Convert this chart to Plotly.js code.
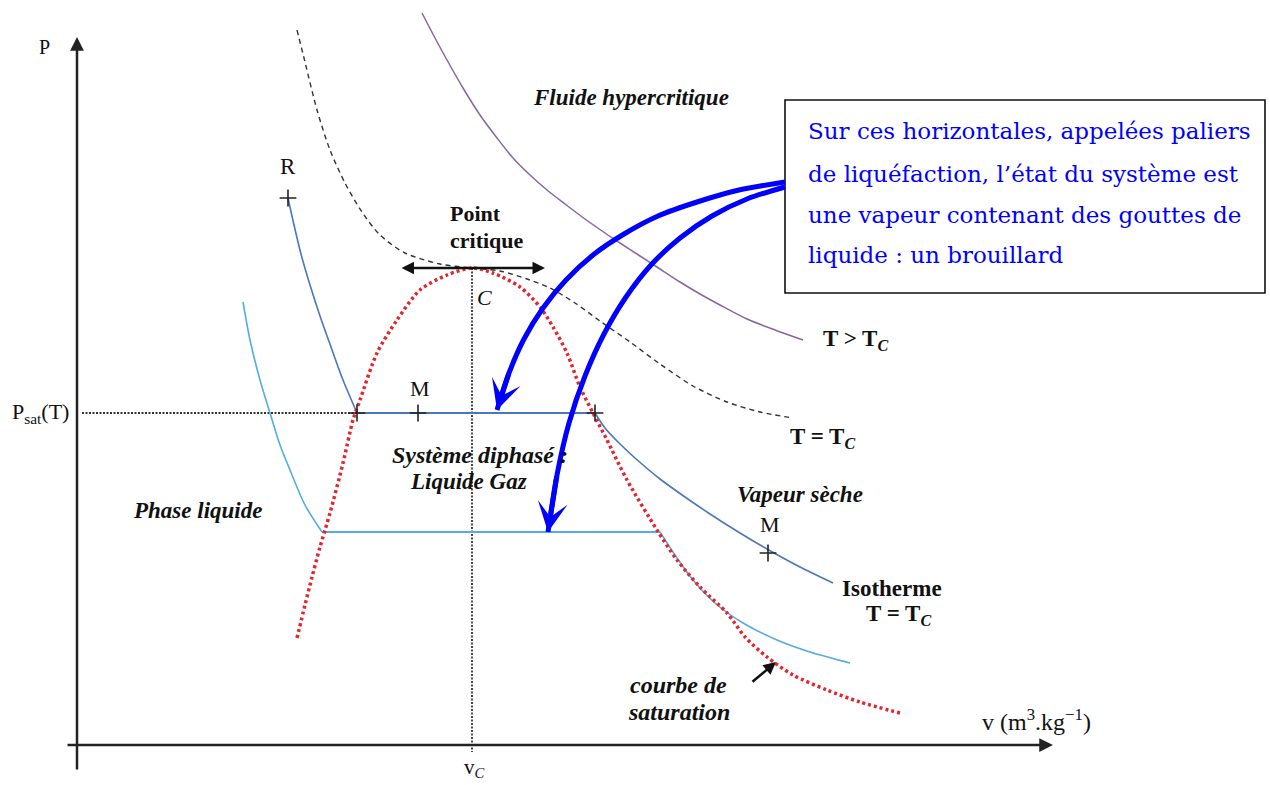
<!DOCTYPE html>
<html>
<head>
<meta charset="utf-8">
<script src="https://cdn.plot.ly/plotly-3.0.1.min.js"></script>
<style>
  html, body { margin: 0; padding: 0; background: #fff; }
  #chart { width: 1270px; height: 785px; }
</style>
</head>
<body>
<div id="chart"></div>
<script>
// Diagramme de Clapeyron (P, v) : courbe de saturation et isothermes (schéma)
// v : volume massique (unités arbitraires), P : pression (unités arbitraires)

// Courbe de saturation (ébullition + rosée)
const satV = [297,305,312,320,330,343,353,360,377,397,420,447,472,493,520,540,553,567,580,593,607,627,657,677,700,727,745,767,793,827,860,900];
const satP = [147,180,208,238,272,322,365,385,432,465,495,510,517,512,498,478,458,432,398,372,345,305,255,225,198,172,148,128,110,95,83,72];

// Isotherme critique T = Tc
const critV = [297,305,317,330,345,362,380,405,440,472,500,527,550,575,600,630,660,693,727,760,793];
const critP = [755,723,675,635,602,573,550,532,521,517,514,506,497,482,464,443,421,399,383,373,367];

// Isotherme T > Tc (fluide hypercritique)
const hypV = [422,435,447,463,480,497,513,530,547,565,585,605,620,640,657,680,700,720,747,775,803];
const hypP = [772,747,725,697,670,647,627,610,595,581,566,552,542,529,518,503,491,480,466,455,445];

// Isotherme T < Tc passant par Psat(T)
const isoLiqV = [288,294,301,310,320,331,343,357];
const isoLiqP = [587,560,531,500,469,438,405,372];
const isoPalierV = [357,595];
const isoPalierP = [372,372];
const isoVapV = [595,605,618,635,660,685,710,740,767,800,833];
const isoVapP = [372,357,343,327,306,288,271,252,236,218,202];

// Isotherme plus basse
const iso2LiqV = [243,250,260,270,280,290,305,322];
const iso2LiqP = [483,445,405,372,340,315,280,253];
const iso2PalierV = [322,660];
const iso2PalierP = [253,253];
const iso2VapV = [660,675,693,715,743,777,810,850];
const iso2VapP = [253,230,205,182,162,145,133,122];

// Point critique et états repérés
const vC = 472, pC = 517;
const pSat = 372;
const markV = [288,357,418,595,768];
const markP = [587,372,372,372,232];

// Flèches de la bulle explicative
const fl1V = [785,739,697,658,624,593,566,543,524,509,497];
const fl1P = [603,595,583,569,551,530,505,477,446,412,375];
const fl2V = [785,747,712,680,651,626,604,585,569,557,548];
const fl2P = [598,586,569,547,520,488,451,409,362,310,253];

const bubbleLines = [
  "Sur ces horizontales, appelées paliers",
  "de liquéfaction, l’état du système est",
  "une vapeur contenant des gouttes de",
  "liquide : un brouillard"
];

const serif = "Liberation Serif, Times New Roman, serif";
const black = "#111";

function line(x, y, color, width, dash, shape) {
  return { x: x, y: y, type: "scatter", mode: "lines", hoverinfo: "skip",
           line: { color: color, width: width, dash: dash || "solid", shape: shape || "spline", smoothing: 0.8 } };
}

const traces = [
  line([vC, vC], [pC, 33], "#333", 1.8, "2px,1.5px", "linear"),
  line([82, 357], [pSat, pSat], "#333", 1.8, "2px,1.5px", "linear"),
  line(hypV, hypP, "#8468a6", 1.5),
  line(critV, critP, "#333", 1.4, "5px,4px"),
  line(iso2LiqV, iso2LiqP, "#55ace0", 1.6),
  line(iso2PalierV, iso2PalierP, "#55ace0", 1.8, "solid", "linear"),
  line(iso2VapV, iso2VapP, "#55ace0", 1.6),
  line(isoLiqV, isoLiqP, "#4a78b8", 1.6),
  line(isoPalierV, isoPalierP, "#4a78b8", 2, "solid", "linear"),
  line(isoVapV, isoVapP, "#4a78b8", 1.6),
  line(satV, satP, "#e3262e", 3.5, "3px,3px"),
  line(fl1V, fl1P, "#0000ff", 5),
  line(fl2V, fl2P, "#0000ff", 5),
  { x: markV, y: markP, type: "scatter", mode: "markers", hoverinfo: "skip",
    marker: { symbol: "cross-thin", size: 12, line: { color: "#222", width: 1.6 } } }
];

function label(x, y, text, size, opts) {
  opts = opts || {};
  return Object.assign({
    x: x, y: y, xref: "x", yref: "y", text: text, showarrow: false,
    xanchor: "center", yanchor: "middle",
    font: { family: opts.family || serif, size: size, color: opts.color || black }
  }, opts.xanchor ? { xanchor: opts.xanchor } : {});
}

function arrow(x, y, ax, ay, color, width, head, size, side) {
  return { x: x, y: y, ax: ax, ay: ay, xref: "x", yref: "y", axref: "x", ayref: "y",
           text: "", showarrow: true, arrowcolor: color, arrowwidth: width,
           arrowhead: head, arrowsize: size, arrowside: side || "end",
           startarrowhead: head, startarrowsize: size };
}

const n1 = fl1V.length, n2 = fl2V.length;
const annotations = [
  // axes
  arrow(77, 748, 77, 14, "#222", 2.5, 2, 1.1),
  arrow(1053, 40, 66, 40, "#222", 2.5, 2, 1.1),
  // tangente horizontale au point critique
  arrow(545, pC, 400, pC, "#111", 2.5, 2, 1, "end+start"),
  // renvoi vers la courbe de saturation
  arrow(776, 123, 751, 102, "#111", 2.5, 2, 1),
  // pointes des flèches bleues
  arrow(fl1V[n1 - 1], fl1P[n1 - 1], fl1V[n1 - 2], fl1P[n1 - 2], "#0000ff", 5, 3, 1),
  arrow(fl2V[n2 - 1], fl2P[n2 - 1], fl2V[n2 - 2], fl2P[n2 - 2], "#0000ff", 5, 3, 1),

  label(44, 738, "P", 20),
  label(1036, 65, "v (m<sup>3</sup>.kg<sup>−1</sup>)", 24),
  label(474, 17, "v<sub><i>C</i></sub>", 21),
  label(40, 372, "P<sub>sat</sub>(T)", 22),
  label(288, 619, "R", 23),
  label(420, 397, "M", 22),
  label(770, 261, "M", 22),
  label(484, 488, "<i>C</i>", 22),

  label(631, 688, "<b><i>Fluide hypercritique</i></b>", 23),
  label(475, 572, "<b>Point</b>", 22),
  label(487, 545, "<b>critique</b>", 22),
  label(855, 445, "<b>T &gt; T<sub><i>C</i></sub></b>", 23),
  label(822, 347, "<b>T = T<sub><i>C</i></sub></b>", 23),
  label(480, 330, "<b><i>Système diphasé :</i></b>", 24),
  label(468, 304, "<b><i>Liquide Gaz</i></b>", 23),
  label(197, 275, "<b><i>Phase liquide</i></b>", 23),
  label(800, 291, "<b><i>Vapeur sèche</i></b>", 23),
  label(892, 197, "<b>Isotherme</b>", 23),
  label(898, 170, "<b>T = T<sub><i>C</i></sub></b>", 23),
  label(678, 100, "<b><i>courbe de</i></b>", 24),
  label(679, 73, "<b><i>saturation</i></b>", 24)
];

const bubbleY = [654, 611, 570, 530];
bubbleLines.forEach(function (t, i) {
  annotations.push(label(806, bubbleY[i], t, 23,
    { xanchor: "left", family: "DejaVu Serif, serif", color: "#0000ff" }));
});

const layout = {
  width: 1270, height: 785,
  margin: { l: 0, r: 0, t: 0, b: 0 },
  paper_bgcolor: "#fff", plot_bgcolor: "#fff",
  showlegend: false,
  xaxis: { range: [0, 1270], visible: false, fixedrange: true },
  yaxis: { range: [0, 785], visible: false, fixedrange: true },
  shapes: [
    { type: "rect", xref: "x", yref: "y", x0: 785, x1: 1265, y0: 492, y1: 685,
      line: { color: "#111", width: 1.6 }, fillcolor: "#fff", layer: "below" }
  ],
  annotations: annotations
};

Plotly.newPlot("chart", traces, layout, { staticPlot: true, displayModeBar: false });
</script>
</body>
</html>
